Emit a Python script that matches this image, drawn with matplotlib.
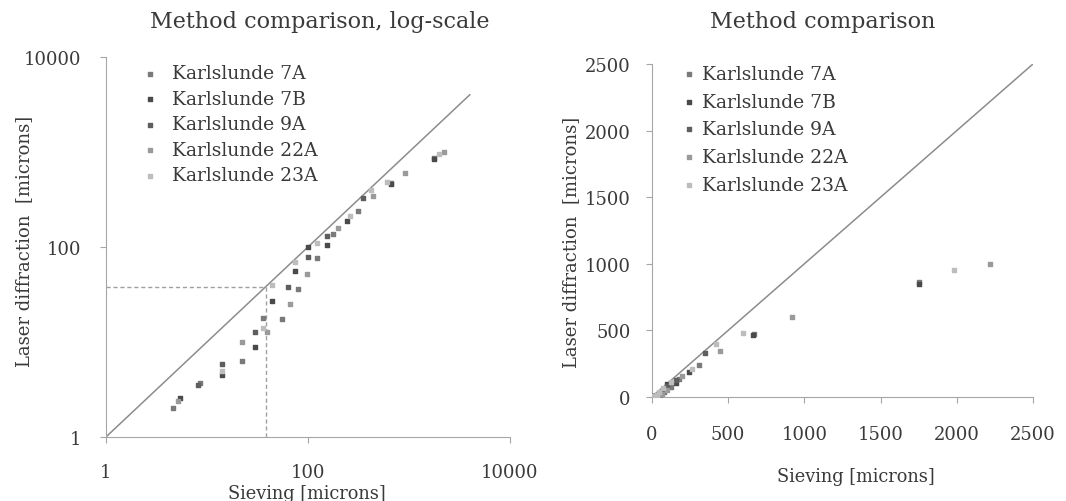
import matplotlib.pyplot as plt
import numpy as np

# sieving diameter vs laser diffraction diameter [microns]
SERIES = ["Karlslunde 7A", "Karlslunde 7B", "Karlslunde 9A",
          "Karlslunde 22A", "Karlslunde 23A"]

sieve_7a = [4.6, 8.5, 22, 36, 55, 80, 123, 178, 310, 670, 1750]
laser_7a = [2.0, 3.7, 6.3, 18, 17.5, 36, 76, 138, 240, 470, 860]

sieve_7b = [5.4, 14, 30, 44, 75, 100, 155, 245, 660, 1750]
laser_7b = [2.6, 4.5, 8.8, 27, 56, 100, 105, 186, 465, 850]

sieve_9a = [8.2, 14, 30, 63, 100, 155, 350]
laser_9a = [3.5, 5.8, 12.6, 38, 79, 130, 330]

sieve_22a = [5.2, 22, 39, 66, 98, 200, 445, 920, 2220]
laser_22a = [2.4, 10, 12.6, 25, 52, 160, 345, 600, 1000]

sieve_23a = [14, 36, 44, 75, 123, 260, 420, 600, 1980]
laser_23a = [5.0, 14, 40, 70, 110, 210, 400, 480, 950]

SIEVE = [sieve_7a, sieve_7b, sieve_9a, sieve_22a, sieve_23a]
LASER = [laser_7a, laser_7b, laser_9a, laser_22a, laser_23a]
COLORS = ["#7a7a7a", "#4a4a4a", "#5e5e5e", "#9a9a9a", "#bdbdbd"]

CUTOFF = 38  # dashed guide in the log plot

TEXT = "#3a3a3a"
SPINE = "#a6a6a6"

plt.rcParams["font.family"] = ["DejaVu Serif"]

fig = plt.figure(figsize=(10.66, 5.02), dpi=100)
ax1 = fig.add_axes([0.0994, 0.1275, 0.379, 0.757])
ax2 = fig.add_axes([0.6116, 0.2072, 0.3574, 0.6633])


def style(ax, xpad, ypad):
    for side in ("top", "right"):
        ax.spines[side].set_visible(False)
    for side in ("left", "bottom"):
        ax.spines[side].set_color(SPINE)
    ax.tick_params(colors=SPINE, labelcolor=TEXT, labelsize=13, length=4)
    ax.tick_params(axis="x", pad=xpad)
    ax.tick_params(axis="y", pad=ypad)


# --- log-scale plot ---
for sx, ly, c, name in zip(SIEVE, LASER, COLORS, SERIES):
    ax1.scatter(sx, ly, s=9, marker="s", color=c, label=name, zorder=3)
ax1.plot([1, 4000], [1, 4000], color="#8c8c8c", lw=1.1)
ax1.plot([1, CUTOFF], [CUTOFF, CUTOFF], color="#a0a0a0", lw=1, ls=(0, (3, 2)))
ax1.plot([CUTOFF, CUTOFF], [1, CUTOFF], color="#a0a0a0", lw=1, ls=(0, (3, 2)))
ax1.set_xscale("log")
ax1.set_yscale("log")
ax1.set_xlim(1, 10000)
ax1.set_ylim(1, 10000)
ax1.set_xticks([1, 100, 10000], ["1", "100", "10000"])
ax1.set_yticks([1, 100, 10000], ["1", "100", "10000"])
ax1.minorticks_off()
style(ax1, 15, 14)
ax1.text(0.53, 1.095, "Method comparison, log-scale", transform=ax1.transAxes,
         ha="center", va="center", fontsize=16, color=TEXT)
ax1.set_xlabel("Sieving [microns]", fontsize=12.8, color=TEXT)
ax1.xaxis.set_label_coords(0.4975, -0.123)
ax1.set_ylabel("Laser diffraction  [microns]", fontsize=13, color=TEXT)
ax1.yaxis.set_label_coords(-0.18, 0.517)
ax1.legend(loc="upper left", bbox_to_anchor=(0.067, 1.0), frameon=False,
           fontsize=13.5, handlelength=1.0, handletextpad=0.68,
           labelspacing=0.4, borderaxespad=0, labelcolor=TEXT)

# --- linear plot ---
for sx, ly, c, name in zip(SIEVE, LASER, COLORS, SERIES):
    ax2.scatter(sx, ly, s=9, marker="s", color=c, label=name, zorder=3)
ax2.plot([0, 2500], [0, 2500], color="#8c8c8c", lw=1.1)
ax2.set_xlim(0, 2500)
ax2.set_ylim(0, 2500)
ax2.set_xticks(np.arange(0, 2501, 500))
ax2.set_yticks(np.arange(0, 2501, 500))
style(ax2, 16, 11.5)
ax2.text(0.449, 1.129, "Method comparison", transform=ax2.transAxes,
         ha="center", va="center", fontsize=16, color=TEXT)
ax2.set_xlabel("Sieving [microns]", fontsize=12.8, color=TEXT)
ax2.xaxis.set_label_coords(0.535, -0.21)
ax2.set_ylabel("Laser diffraction  [microns]", fontsize=13, color=TEXT)
ax2.yaxis.set_label_coords(-0.189, 0.468)
ax2.legend(loc="upper left", bbox_to_anchor=(0.052, 1.02), frameon=False,
           fontsize=13.5, handlelength=1.0, handletextpad=0.2,
           labelspacing=0.52, borderaxespad=0, labelcolor=TEXT)

fig.savefig("out.png", dpi=100)
